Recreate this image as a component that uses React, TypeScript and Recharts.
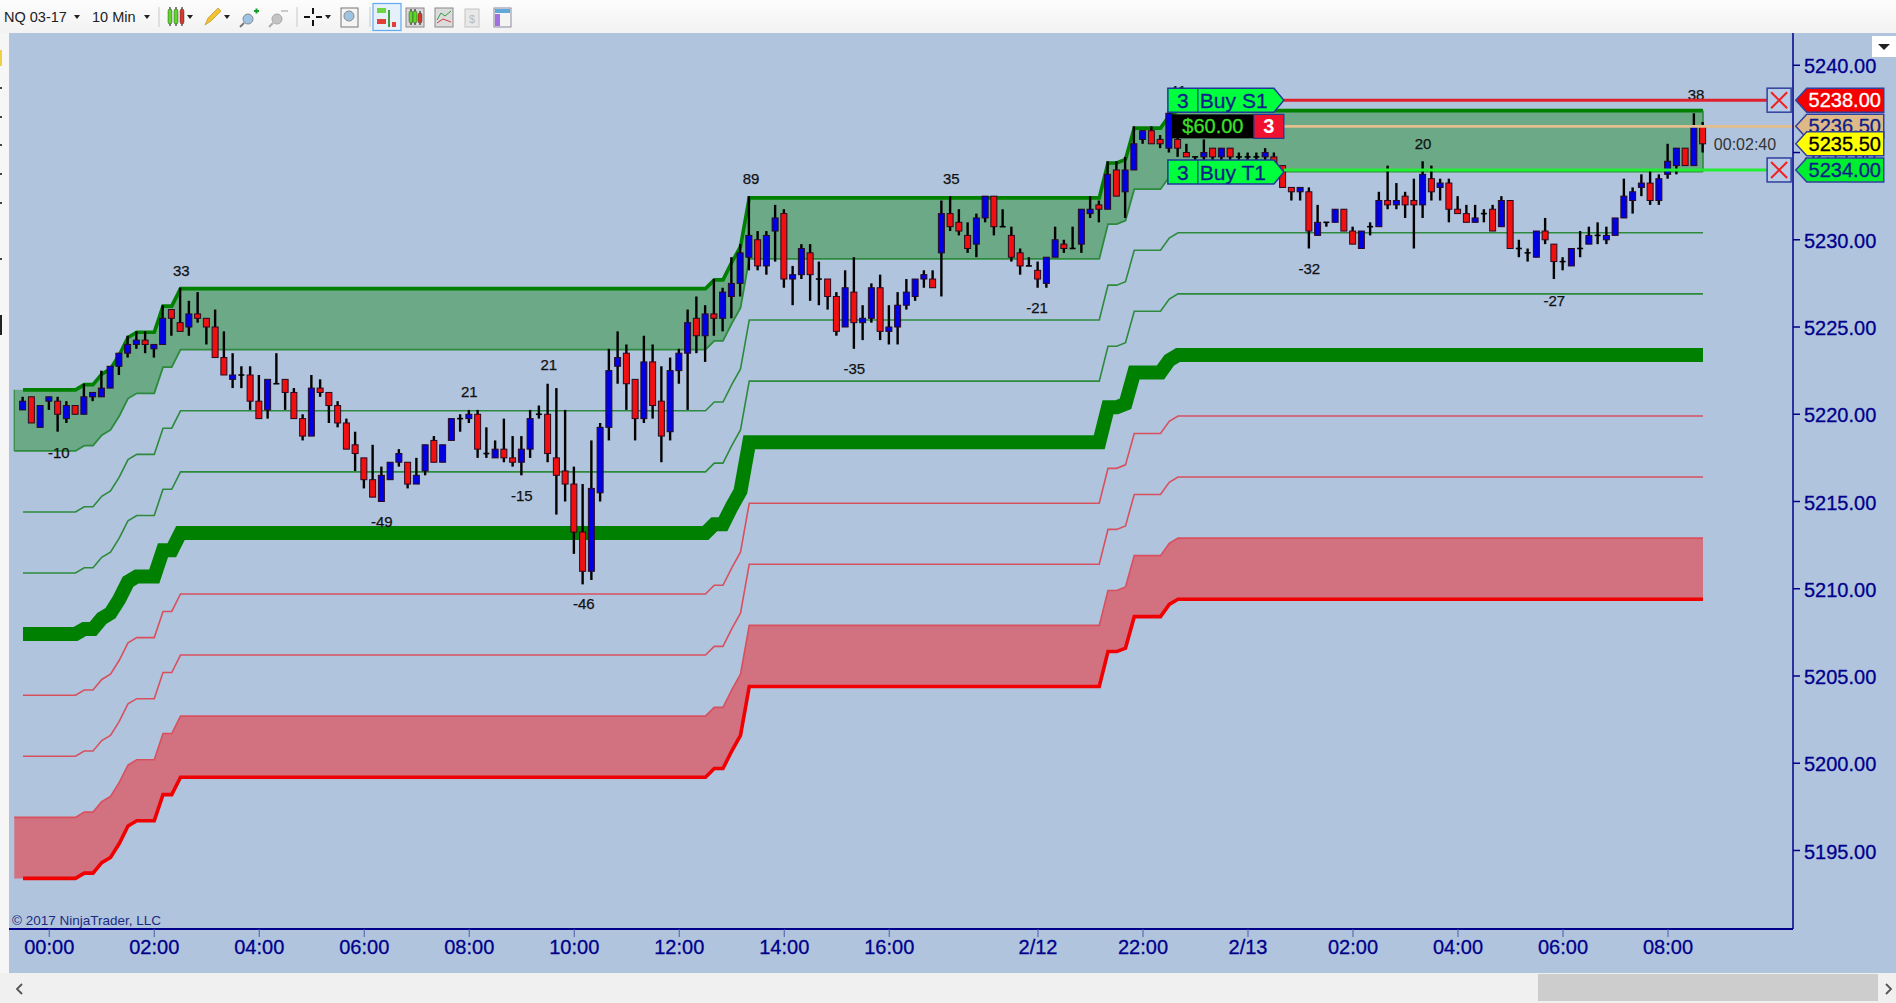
import {
  Area,
  Bar,
  ComposedChart,
  Line,
  ReferenceDot,
  ReferenceLine,
  XAxis,
  YAxis,
} from 'recharts';

const FONT = '"Liberation Sans", Arial, sans-serif';
const NAVY = '#00008b';

// candles, one per 10 min bar (oldest first)
const opens = [
  5220.25, 5221, 5219.25, 5220.75, 5220.75, 5219.75, 5220.5, 5220, 5221, 5221,
  5221.5, 5222.75, 5223.5, 5224, 5224.25, 5223.75, 5224, 5226, 5225.25, 5225,
  5225.75, 5225.5, 5225, 5223.25, 5222, 5222.25, 5222.25, 5220.75, 5220.25, 5221.75,
  5222, 5221.25, 5219.75, 5218.75, 5221.5, 5221.25, 5220.5, 5219.5, 5218.25, 5217.5,
  5216.25, 5215, 5216.25, 5217.25, 5217.25, 5216, 5216.75, 5218.5, 5217.25, 5218.5,
  5219.75, 5219.75, 5220, 5217.75, 5217.5, 5218, 5217.5, 5217.25, 5218, 5220,
  5220, 5217.5, 5216.75, 5216, 5213.25, 5211, 5215.5, 5219.25, 5222.75, 5223.5,
  5222, 5219.75, 5223, 5220.75, 5219, 5222.5, 5223.5, 5225.5, 5224.5, 5225.75,
  5225.5, 5226.75, 5227.5, 5229, 5230, 5228.5, 5230.5, 5231.5, 5227.75, 5228,
  5229.25, 5227.75, 5227.75, 5226.75, 5225, 5227, 5225.25, 5225.5, 5227.25, 5224.75,
  5225, 5226.25, 5226.75, 5227.75, 5227.75, 5229.25, 5231.5, 5231, 5230.25, 5229.75,
  5231.25, 5232.5, 5230.75, 5230.25, 5229.25, 5228.5, 5228.25, 5227.5, 5229, 5229.75,
  5229.5, 5229.75, 5231.5, 5232, 5231.75, 5234, 5232.75, 5234, 5235.75, 5236.25,
  5235.75, 5235.25, 5235.75, 5235, 5234.75, 5234.75, 5235.25, 5234.75, 5235.25, 5234.75,
  5234.75, 5234.75, 5234.75, 5234.75, 5234.25, 5233, 5232.75, 5232.75, 5230.25, 5231,
  5231, 5231.75, 5230.5, 5229.5, 5230.75, 5230.75, 5232.25, 5232, 5232.5, 5232.25,
  5232, 5233.5, 5233, 5233.25, 5231.75, 5231.5, 5231, 5231.5, 5231.75, 5230.75,
  5232.25, 5229.5, 5229.25, 5229, 5230.5, 5229.75, 5228.75, 5228.5, 5229.5, 5229.75,
  5230.25, 5230, 5230.25, 5231.25, 5232.25, 5233, 5233.25, 5232.25, 5233.75, 5234.25,
  5235.25, 5234.25, 5236.5,
];
const highs = [
  5221, 5221, 5220.5, 5221, 5221, 5220.75, 5220.5, 5221.75, 5221.25, 5222.5,
  5222.75, 5223.5, 5224.5, 5224.75, 5224.75, 5224, 5226.25, 5226, 5227.25, 5226.5,
  5227, 5225.5, 5226, 5224.75, 5223.5, 5222.75, 5222.75, 5222.25, 5222, 5223.5,
  5222, 5221.5, 5220, 5222.25, 5222, 5221.25, 5220.75, 5219.75, 5219, 5217.5,
  5218.25, 5217, 5217.25, 5218, 5217.25, 5217.5, 5218.25, 5218.75, 5218.25, 5219.75,
  5220, 5220.25, 5220.25, 5219.25, 5218.5, 5219.75, 5218.75, 5218.75, 5220.25, 5220.5,
  5221.75, 5221.5, 5220.25, 5217, 5216, 5218.5, 5219.5, 5223.75, 5224.75, 5224,
  5222, 5224.5, 5224, 5222.75, 5223.25, 5223.75, 5226, 5226.75, 5226.25, 5227.75,
  5227.25, 5229, 5229.75, 5232.5, 5230.5, 5230.5, 5232, 5231.75, 5228.5, 5229.75,
  5229.75, 5228.75, 5227.75, 5227, 5228.25, 5229, 5226.25, 5227.5, 5228, 5226.25,
  5227, 5227.75, 5227.75, 5228.25, 5228.25, 5232.25, 5232.5, 5231.75, 5231, 5231.5,
  5232.5, 5232.5, 5231.75, 5230.75, 5229.5, 5229, 5228.75, 5229, 5230.75, 5230,
  5230.75, 5231.75, 5232.5, 5232.25, 5234.5, 5234.5, 5234.75, 5236.5, 5236.25, 5236.5,
  5236, 5237.5, 5236, 5235.5, 5234.75, 5235.75, 5235.25, 5235.25, 5235.25, 5235,
  5235, 5235, 5235.25, 5235, 5234.25, 5233, 5233, 5233, 5232, 5231,
  5231.75, 5231.75, 5230.75, 5230.5, 5231, 5232.75, 5234.25, 5233.25, 5232.75, 5233.5,
  5234.5, 5234.25, 5233.5, 5233.5, 5232.5, 5232, 5232, 5231.75, 5232, 5232.5,
  5232.25, 5230, 5229.5, 5230.5, 5231.25, 5229.75, 5229, 5229.5, 5230.5, 5230.75,
  5231, 5230.75, 5231.25, 5233.5, 5233, 5233.75, 5234, 5233.75, 5235.5, 5235.25,
  5235.25, 5237.25, 5236.75,
];
const lows = [
  5220.25, 5219.5, 5219.25, 5220.25, 5219, 5219.5, 5220, 5220, 5220.75, 5221,
  5221.5, 5222.25, 5223.25, 5223.75, 5223.5, 5223.25, 5224, 5224.5, 5224.75, 5224.5,
  5225.25, 5224, 5223.25, 5222.25, 5221.5, 5221.5, 5220.25, 5219.75, 5219.75, 5221.75,
  5220.25, 5219.75, 5218.5, 5218.75, 5221, 5219.5, 5219.25, 5218, 5216.75, 5215.75,
  5215.25, 5215, 5216.25, 5217, 5215.75, 5216, 5216.5, 5217.25, 5217.25, 5218.5,
  5219, 5219.5, 5217.5, 5217.5, 5217.5, 5217.25, 5217, 5216.5, 5217.5, 5219.75,
  5217.25, 5214.25, 5215, 5212, 5210.25, 5210.5, 5215, 5218.5, 5221.75, 5220.25,
  5218.5, 5219.5, 5219.75, 5217.25, 5218.5, 5221.75, 5220.25, 5223.5, 5223, 5224.5,
  5224.75, 5225.5, 5226.75, 5228.25, 5228.25, 5228, 5228.75, 5227.25, 5226.25, 5227.75,
  5226.5, 5226.25, 5226, 5224.5, 5225, 5223.75, 5224.25, 5225.25, 5224.25, 5224,
  5224, 5226, 5226.5, 5227.25, 5227.25, 5226.75, 5230.5, 5230.25, 5229.25, 5229,
  5231, 5230.25, 5230.75, 5228.75, 5228, 5228.5, 5227.25, 5227.25, 5229, 5229.25,
  5229.5, 5229.25, 5231.25, 5231, 5231.75, 5232.5, 5231.25, 5234, 5235.5, 5235.5,
  5235.25, 5235, 5234.75, 5234.75, 5234.5, 5234.25, 5234.5, 5234.5, 5234.5, 5234.5,
  5234.5, 5234.5, 5234.5, 5234.25, 5233, 5232.25, 5232.25, 5229.5, 5230.25, 5230.75,
  5231, 5230.5, 5229.75, 5229.5, 5230.25, 5230.75, 5231.75, 5231.75, 5231.25, 5229.5,
  5231.25, 5232.25, 5232.25, 5231, 5231.5, 5231, 5231, 5231, 5230.5, 5230.75,
  5229.5, 5229, 5228.75, 5229, 5229.75, 5227.75, 5228.25, 5228.5, 5229, 5229.75,
  5229.75, 5229.75, 5230.25, 5231.25, 5231.5, 5232.5, 5232, 5232, 5233.5, 5233.75,
  5234.25, 5234.25, 5235,
];
const closes = [
  5220.75, 5219.5, 5220.5, 5221, 5220, 5220.5, 5220, 5221, 5221.25, 5221.5,
  5222.75, 5223.5, 5224, 5224.25, 5224, 5224, 5225.5, 5225.5, 5224.75, 5225.75,
  5225.5, 5225, 5223.25, 5222.25, 5222.25, 5222.25, 5220.75, 5219.75, 5222, 5221.75,
  5221.25, 5219.75, 5218.75, 5221.5, 5221.25, 5220.5, 5219.5, 5218, 5217.75, 5216.25,
  5215.25, 5216.5, 5217.25, 5217.75, 5216, 5216.5, 5218.25, 5217.25, 5218.25, 5219.75,
  5219.75, 5220, 5218, 5217.75, 5218, 5217.5, 5217.25, 5218, 5219.75, 5220,
  5217.75, 5216.5, 5216, 5213.25, 5211, 5215.75, 5219.25, 5222.5, 5223.25, 5221.75,
  5219.75, 5223, 5220.5, 5218.75, 5222.5, 5223.5, 5225.25, 5224.5, 5225.75, 5225.5,
  5227, 5227.5, 5229.25, 5230.25, 5228.5, 5230.25, 5231.25, 5227.75, 5228, 5229.5,
  5228, 5227.75, 5226.75, 5224.75, 5227.25, 5225.25, 5225.5, 5227.25, 5224.75, 5225,
  5226.25, 5227, 5227.75, 5228, 5227.25, 5231.5, 5230.75, 5230.5, 5229.5, 5231.25,
  5232.5, 5230.75, 5230.75, 5229, 5228.5, 5228.5, 5227.75, 5229, 5230, 5229.5,
  5229.5, 5231.75, 5231.75, 5231.75, 5233.75, 5232.5, 5234, 5235.5, 5236.25, 5235.5,
  5235.5, 5237.25, 5235.25, 5234.75, 5234.75, 5235, 5234.75, 5235.25, 5234.75, 5234.75,
  5234.75, 5234.75, 5235, 5234.25, 5233, 5232.75, 5233, 5230.5, 5231, 5231,
  5231.75, 5230.5, 5229.75, 5230.5, 5230.75, 5232.25, 5232, 5232.25, 5232, 5232,
  5233.75, 5232.75, 5233.25, 5231.75, 5231.5, 5231, 5231.25, 5231.5, 5230.5, 5232.25,
  5229.5, 5229.5, 5229.25, 5230.5, 5230, 5228.75, 5228.75, 5229.5, 5229.5, 5230.25,
  5230.25, 5230.25, 5231.25, 5232.5, 5232.75, 5233.25, 5232.25, 5233.5, 5234.5, 5235.25,
  5234.25, 5236.5, 5235.5,
];

// indicator levels, read at the bars where they change
const levelBars = [0, 6, 7, 8, 9, 10, 11, 12, 13, 15, 16, 17, 18, 78, 79, 80, 81, 82, 83, 123, 124, 125, 126, 127, 130, 131, 132, 192];
const upperTop = [5221.4, 5221.4, 5221.7, 5221.7, 5222.3, 5222.6, 5223.4, 5224.4, 5224.7, 5224.7, 5226.2, 5226.2, 5227.2, 5227.2, 5227.7, 5227.7, 5228.7, 5229.6, 5232.4, 5232.4, 5234.4, 5234.4, 5234.6, 5236.4, 5236.4, 5237.1, 5237.4, 5237.4];
const upperBottom = [5217.9, 5217.9, 5218.2, 5218.2, 5218.8, 5219.1, 5219.9, 5220.9, 5221.2, 5221.2, 5222.7, 5222.7, 5223.7, 5223.7, 5224.2, 5224.2, 5225.2, 5226.1, 5228.9, 5228.9, 5230.9, 5230.9, 5231.1, 5232.9, 5232.9, 5233.6, 5233.9, 5233.9];
const greenThin1 = [5214.4, 5214.4, 5214.7, 5214.7, 5215.3, 5215.6, 5216.4, 5217.4, 5217.7, 5217.7, 5219.2, 5219.2, 5220.2, 5220.2, 5220.7, 5220.7, 5221.7, 5222.6, 5225.4, 5225.4, 5227.4, 5227.4, 5227.6, 5229.4, 5229.4, 5230.1, 5230.4, 5230.4];
const greenThin2 = [5210.9, 5210.9, 5211.2, 5211.2, 5211.8, 5212.1, 5212.9, 5213.9, 5214.2, 5214.2, 5215.7, 5215.7, 5216.7, 5216.7, 5217.2, 5217.2, 5218.2, 5219.1, 5221.9, 5221.9, 5223.9, 5223.9, 5224.1, 5225.9, 5225.9, 5226.6, 5226.9, 5226.9];
const midLine = [5207.4, 5207.4, 5207.7, 5207.7, 5208.3, 5208.6, 5209.4, 5210.4, 5210.7, 5210.7, 5212.2, 5212.2, 5213.2, 5213.2, 5213.7, 5213.7, 5214.7, 5215.6, 5218.4, 5218.4, 5220.4, 5220.4, 5220.6, 5222.4, 5222.4, 5223.1, 5223.4, 5223.4];
const redThin1 = [5203.9, 5203.9, 5204.2, 5204.2, 5204.8, 5205.1, 5205.9, 5206.9, 5207.2, 5207.2, 5208.7, 5208.7, 5209.7, 5209.7, 5210.2, 5210.2, 5211.2, 5212.1, 5214.9, 5214.9, 5216.9, 5216.9, 5217.1, 5218.9, 5218.9, 5219.6, 5219.9, 5219.9];
const redThin2 = [5200.4, 5200.4, 5200.7, 5200.7, 5201.3, 5201.6, 5202.4, 5203.4, 5203.7, 5203.7, 5205.2, 5205.2, 5206.2, 5206.2, 5206.7, 5206.7, 5207.7, 5208.6, 5211.4, 5211.4, 5213.4, 5213.4, 5213.6, 5215.4, 5215.4, 5216.1, 5216.4, 5216.4];
const lowerTop = [5196.9, 5196.9, 5197.2, 5197.2, 5197.8, 5198.1, 5198.9, 5199.9, 5200.2, 5200.2, 5201.7, 5201.7, 5202.7, 5202.7, 5203.2, 5203.2, 5204.2, 5205.1, 5207.9, 5207.9, 5209.9, 5209.9, 5210.1, 5211.9, 5211.9, 5212.6, 5212.9, 5212.9];
const lowerBottom = [5193.4, 5193.4, 5193.7, 5193.7, 5194.3, 5194.6, 5195.4, 5196.4, 5196.7, 5196.7, 5198.2, 5198.2, 5199.2, 5199.2, 5199.7, 5199.7, 5200.7, 5201.6, 5204.4, 5204.4, 5206.4, 5206.4, 5206.6, 5208.4, 5208.4, 5209.1, 5209.4, 5209.4];

// swing labels
const swingTexts = ['33', '-10', '21', '21', '-49', '-15', '-46', '89', '35', '-35', '-21', '41', '-32', '20', '-27', '38'];
const swingBars = [18.1, 4.1, 51, 60.1, 41, 57, 64.1, 83.2, 106.1, 95, 115.9, 132, 147, 160, 175, 191.2];
const swingPrices = [5228.2, 5217.8, 5221.3, 5222.8, 5213.8, 5215.3, 5209.1, 5233.5, 5233.5, 5222.6, 5226.1, 5238.5, 5228.35, 5235.5, 5226.5, 5238.3];

const tickBars = [3, 15, 27, 39, 51, 63, 75, 87, 99, 116, 128, 140, 152, 164, 176, 188];
const tickLabels = ['00:00', '02:00', '04:00', '06:00', '08:00', '10:00', '12:00', '14:00', '16:00', '2/12', '22:00', '2/13', '02:00', '04:00', '06:00', '08:00'];
const priceTicks = [5195, 5200, 5205, 5210, 5215, 5220, 5225, 5230, 5235, 5240];

const candles = opens.map((open, i) => ({
  i,
  open,
  close: closes[i],
  range: [lows[i], highs[i]],
}));

const levels = levelBars.map((i, k) => ({
  i,
  upperTop: upperTop[k],
  upperBottom: upperBottom[k],
  greenThin1: greenThin1[k],
  greenThin2: greenThin2[k],
  midLine: midLine[k],
  redThin1: redThin1[k],
  redThin2: redThin2[k],
  lowerTop: lowerTop[k],
  lowerBottom: lowerBottom[k],
  upperBand: [upperBottom[k], upperTop[k]],
  lowerBand: [lowerBottom[k], lowerTop[k]],
}));
// the filled bands start one bar before the lines
const bandLevels = [{ ...levels[0], i: -1 }, ...levels];

function Candle(props: any) {
  const { x, y, width, height, payload } = props;
  const [low, high] = payload.range;
  const k = height / (high - low);
  const cx = x + width / 2;
  const top = y + (high - Math.max(payload.open, payload.close)) * k;
  const bottom = y + (high - Math.min(payload.open, payload.close)) * k;
  const fill = payload.close > payload.open ? '#0000e6' : '#f01010';
  return (
    <g>
      <line x1={cx} x2={cx} y1={y} y2={y + height} stroke="#000" strokeWidth={2.4} />
      {payload.close === payload.open ? (
        <line x1={cx - 3} x2={cx + 3} y1={top} y2={top} stroke="#000" strokeWidth={1.6} />
      ) : (
        <rect x={cx - 3} y={top} width={6} height={bottom - top} fill={fill} stroke="#2a0a20" strokeWidth={1} />
      )}
    </g>
  );
}

function priceTag(text: string, fill: string, color: string) {
  return (props: any) => {
    const { cx, cy } = props;
    const l = cx;
    const r = cx + 88;
    return (
      <g>
        <path
          d={`M${l} ${cy} L${l + 11} ${cy - 12} L${r} ${cy - 12} L${r} ${cy + 12} L${l + 11} ${cy + 12} Z`}
          fill={fill}
          stroke="#30409c"
          strokeWidth={1.5}
        />
        <text x={l + 49} y={cy + 7} textAnchor="middle" fontFamily={FONT} fontSize={20} fill={color} stroke={color} strokeWidth={0.3}>
          {text}
        </text>
      </g>
    );
  };
}

function closeBox(props: any) {
  const { cx, cy } = props;
  return (
    <g>
      <rect x={cx - 12} y={cy - 12} width={24} height={24} fill="#b8cbe6" stroke="#30409c" strokeWidth={1.5} />
      <path d={`M${cx - 8} ${cy - 8} L${cx + 8} ${cy + 8} M${cx + 8} ${cy - 8} L${cx - 8} ${cy + 8}`} stroke="#f02020" strokeWidth={2} />
    </g>
  );
}

function orderChip(label: string, dy: number) {
  return (props: any) => {
    const { cx } = props;
    const cy = props.cy + dy;
    const l = cx - 116;
    return (
      <g>
        <path
          d={`M${l} ${cy - 12} L${cx - 10} ${cy - 12} L${cx} ${cy} L${cx - 10} ${cy + 12} L${l} ${cy + 12} Z`}
          fill="#00ff3c"
          stroke="#1c3c98"
          strokeWidth={1.5}
        />
        <line x1={l + 30} x2={l + 30} y1={cy - 12} y2={cy + 12} stroke="#1c3c98" strokeWidth={1.2} />
        <text x={l + 15} y={cy + 8} textAnchor="middle" fontFamily={FONT} fontSize={21} fill="#0a1f8a" stroke="#0a1f8a" strokeWidth={0.3}>
          3
        </text>
        <text x={l + 32} y={cy + 8} fontFamily={FONT} fontSize={21} fill="#0a1f8a" stroke="#0a1f8a" strokeWidth={0.3}>
          {label}
        </text>
      </g>
    );
  };
}

function pnlChip(props: any) {
  const { cx, cy } = props;
  return (
    <g>
      <rect x={cx - 112} y={cy - 12} width={112} height={24} fill="#000" />
      <rect x={cx - 30} y={cy - 12} width={30} height={24} fill="#f01030" stroke="#1c3c98" strokeWidth={1.2} />
      <text x={cx - 71} y={cy + 7} textAnchor="middle" fontFamily={FONT} fontSize={20} fill="#3ce02a" stroke="#3ce02a" strokeWidth={0.3}>
        $60.00
      </text>
      <text x={cx - 15} y={cy + 7} textAnchor="middle" fontFamily={FONT} fontSize={20} fontWeight="bold" fill="#fff">
        3
      </text>
    </g>
  );
}

function Pill({ x, y, h, c }: { x: number; y: number; h: number; c: string }) {
  return (
    <g>
      <line x1={x} x2={x} y1={y - 2} y2={y + h + 2} stroke="#111" strokeWidth={1} />
      <rect x={x - 2} y={y} width={4} height={h} rx={2} fill={c} stroke="#222" strokeWidth={0.4} />
    </g>
  );
}

function Caret({ x }: { x: number }) {
  return <path d={`M${x - 3} 15 L${x + 3} 15 L${x} 19 Z`} fill="#222" />;
}

function Toolbar() {
  return (
    <div style={{ position: 'absolute', left: 0, top: 0, width: 1896, height: 33, background: 'linear-gradient(#fdfdfd, #f2f2f2)' }}>
      <svg width={1896} height={33} style={{ display: 'block' }}>
        <text x={4} y={22} fontFamily={FONT} fontSize={14.5} fill="#222">NQ 03-17</text>
        <Caret x={77} />
        <text x={92} y={22} fontFamily={FONT} fontSize={14.5} fill="#222">10 Min</text>
        <Caret x={147} />
        <line x1={159} x2={159} y1={7} y2={27} stroke="#c8c8c8" />
        <Pill x={170} y={9} h={15} c="#5fd62a" />
        <Pill x={176} y={9} h={15} c="#5fd62a" />
        <Pill x={182} y={9} h={15} c="#d8382c" />
        <Caret x={190} />
        <path d="M205 25 L208 18 L218 8 L221 11 L211 21 Z" fill="#f2c230" stroke="#b08a20" strokeWidth={0.6} />
        <Caret x={227} />
        <circle cx={248} cy={19} r={5} fill="#9cc4e4" stroke="#8a8a8a" />
        <line x1={244} x2={240} y1={23} y2={27} stroke="#777" strokeWidth={2} />
        <path d="M254 11 h5 M256.5 8.5 v5" stroke="#16a02a" strokeWidth={2} />
        <circle cx={277} cy={19} r={5} fill="#c4c4c4" stroke="#a8a8a8" />
        <line x1={273} x2={269} y1={23} y2={27} stroke="#aaa" strokeWidth={2} />
        <line x1={281} x2={288} y1={11} y2={11} stroke="#b8b8b8" strokeWidth={1.5} />
        <line x1={297} x2={297} y1={7} y2={27} stroke="#c8c8c8" />
        <path d="M304 17 h6 M316 17 h6 M313 8 v6 M313 20 v6" stroke="#111" strokeWidth={2} />
        <Caret x={328} />
        <rect x={341} y={8} width={17} height={19} fill="#f4f4f4" stroke="#777" />
        <circle cx={349} cy={16} r={5} fill="#9cc4e4" stroke="#8a8a8a" />
        <line x1={370} x2={370} y1={7} y2={27} stroke="#c8c8c8" />
        <rect x={373} y={3.5} width={28} height={27} fill="#e6f0fa" stroke="#62aaf0" strokeWidth={1.2} />
        <rect x={377} y={8} width={9} height={5} fill="#6fd640" />
        <rect x={377} y={19} width={9} height={5} fill="#e04038" />
        <line x1={389} x2={389} y1={10} y2={27} stroke="#3ca03c" strokeWidth={2} />
        <rect x={392} y={22} width={4} height={5} fill="#e04038" />
        <rect x={406} y={8} width={18} height={19} fill="#d8d8d8" stroke="#888" />
        <Pill x={411} y={11} h={12} c="#5fd62a" />
        <Pill x={415} y={11} h={12} c="#5fd62a" />
        <Pill x={420} y={13} h={10} c="#d8382c" />
        <rect x={435} y={8} width={18} height={19} fill="#dcdcdc" stroke="#888" />
        <path d="M437 20 L441 13 L445 16 L451 11" fill="none" stroke="#30a040" />
        <path d="M437 23 L443 19 L451 22" fill="none" stroke="#d04040" />
        <rect x={465} y={9} width={14} height={18} fill="#e8e8e8" stroke="#c4c4c4" />
        <text x={472} y={23} textAnchor="middle" fontFamily={FONT} fontSize={11} fill="#bbb">$</text>
        <rect x={494} y={8} width={17} height={19} fill="#f4f4f4" stroke="#8a8aa0" />
        <rect x={495} y={9} width={15} height={4} fill="#60a8d8" />
        <rect x={495} y={14} width={5} height={12} fill="#a070e0" />
      </svg>
    </div>
  );
}

export default function App() {
  return (
    <div style={{ position: 'absolute', left: 0, top: 0, width: 1896, height: 1003, overflow: 'hidden', background: '#b0c4de', fontFamily: FONT }}>
      <ComposedChart
        width={1896}
        height={973}
        data={candles}
        margin={{ top: 33, right: 0, bottom: 0, left: 9 }}
        style={{ position: 'absolute', left: 0, top: 0 }}
      >
        <XAxis
          dataKey="i"
          type="number"
          domain={[-1.6, 202.286]}
          allowDataOverflow
          ticks={tickBars}
          interval={0}
          tickFormatter={(v: number) => tickLabels[tickBars.indexOf(v)]}
          height={44}
          stroke={NAVY}
          strokeWidth={2}
          tickSize={8}
          tickMargin={3}
          tick={{ fill: NAVY, stroke: NAVY, strokeWidth: 0.3, fontSize: 20, fontFamily: FONT }}
          tickLine={{ stroke: '#4a5cb0', strokeWidth: 1 }}
        />
        <YAxis
          orientation="right"
          type="number"
          domain={[5190.5, 5241.85]}
          allowDataOverflow
          ticks={priceTicks}
          interval={0}
          width={103}
          stroke={NAVY}
          strokeWidth={1.5}
          tickSize={7}
          tickMargin={4}
          // 5235 sits behind the price tags, drawn below with them
          tickFormatter={(v: number) => (v === 5235 ? '' : v.toFixed(2))}
          tick={{ fill: NAVY, stroke: NAVY, strokeWidth: 0.3, fontSize: 20, fontFamily: FONT, dy: 1 }}
        />

        <Area data={bandLevels} dataKey="upperBand" type="linear" stroke="none" fill="#6ba987" fillOpacity={1} isAnimationActive={false} zIndex={100} />
        <Area data={bandLevels} dataKey="lowerBand" type="linear" stroke="none" fill="#d27180" fillOpacity={1} isAnimationActive={false} zIndex={100} />

        <Line data={bandLevels} dataKey="upperBottom" type="linear" stroke="#2d8a3c" strokeWidth={1.8} dot={false} isAnimationActive={false} zIndex={110} />
        <Line data={levels} dataKey="greenThin1" type="linear" stroke="#2d8a3c" strokeWidth={1.6} dot={false} isAnimationActive={false} zIndex={110} />
        <Line data={levels} dataKey="greenThin2" type="linear" stroke="#2d8a3c" strokeWidth={1.6} dot={false} isAnimationActive={false} zIndex={110} />
        <Line data={levels} dataKey="midLine" type="linear" stroke="#008000" strokeWidth={14} dot={false} isAnimationActive={false} zIndex={110} />
        <Line data={levels} dataKey="redThin1" type="linear" stroke="#d8505e" strokeWidth={1.6} dot={false} isAnimationActive={false} zIndex={110} />
        <Line data={levels} dataKey="redThin2" type="linear" stroke="#d8505e" strokeWidth={1.6} dot={false} isAnimationActive={false} zIndex={110} />
        <Line data={bandLevels} dataKey="lowerTop" type="linear" stroke="#d8505e" strokeWidth={1.6} dot={false} isAnimationActive={false} zIndex={110} />
        <Line data={levels} dataKey="upperTop" type="linear" stroke="#008000" strokeWidth={3.6} dot={false} isAnimationActive={false} zIndex={110} />
        <Line data={levels} dataKey="lowerBottom" type="linear" stroke="#f00000" strokeWidth={3.6} dot={false} isAnimationActive={false} zIndex={110} />

        {/* band edges */}
        <ReferenceLine segment={[{ x: -1, y: 5217.9 }, { x: -1, y: 5221.4 }]} ifOverflow="visible" stroke="#2d8a3c" strokeWidth={1.2} zIndex={120} />
        <ReferenceLine segment={[{ x: 192, y: 5233.9 }, { x: 192, y: 5237.4 }]} ifOverflow="visible" stroke="#2d8a3c" strokeWidth={1.6} zIndex={120} />

        <Bar dataKey="range" barSize={6} shape={Candle} isAnimationActive={false} zIndex={300} />

        {swingTexts.map((t, k) => (
          <ReferenceDot
            key={k}
            x={swingBars[k]}
            y={swingPrices[k]}
            r={1}
            ifOverflow="visible"
            zIndex={350}
            shape={(p: any) => (
              <text x={p.cx} y={p.cy + 5} textAnchor="middle" fontFamily={FONT} fontSize={15} fill="#111" stroke="#111" strokeWidth={0.25}>
                {t}
              </text>
            )}
          />
        ))}

        <ReferenceLine segment={[{ x: 144.1, y: 5238 }, { x: 199.3, y: 5238 }]} ifOverflow="visible" stroke="#e0202c" strokeWidth={3} zIndex={400} />
        <ReferenceLine segment={[{ x: 144.1, y: 5236.5 }, { x: 202.5, y: 5236.5 }]} ifOverflow="visible" stroke="#e3bf8e" strokeWidth={2.6} zIndex={400} />
        <ReferenceLine segment={[{ x: 144.1, y: 5234 }, { x: 199.3, y: 5234 }]} ifOverflow="visible" stroke="#22ee33" strokeWidth={3} zIndex={400} />

        <ReferenceDot x={144.1} y={5238} r={1} ifOverflow="visible" zIndex={410} shape={orderChip('Buy S1', 0)} />
        <ReferenceDot x={144.1} y={5236.5} r={1} ifOverflow="visible" zIndex={410} shape={pnlChip} />
        <ReferenceDot x={144.1} y={5234} r={1} ifOverflow="visible" zIndex={410} shape={orderChip('Buy T1', 2)} />
        <ReferenceDot x={200.7} y={5238} r={1} ifOverflow="visible" zIndex={410} shape={closeBox} />
        <ReferenceDot x={200.7} y={5234} r={1} ifOverflow="visible" zIndex={410} shape={closeBox} />

        <ReferenceDot
          x={196.8}
          y={5235.5}
          r={1}
          ifOverflow="visible"
          zIndex={410}
          shape={(p: any) => (
            <text x={p.cx} y={p.cy + 6} textAnchor="middle" fontFamily={FONT} fontSize={16} fill="#333">
              00:02:40
            </text>
          )}
        />
        <ReferenceDot
          x={203.54}
          y={5235}
          r={1}
          ifOverflow="visible"
          zIndex={590}
          shape={(p: any) => (
            <text x={p.cx} y={p.cy + 8} fontFamily={FONT} fontSize={20} fill={NAVY}>
              5235.00
            </text>
          )}
        />
        <ReferenceDot x={202.6} y={5236.5} r={1} ifOverflow="visible" zIndex={600} shape={priceTag('5236.50', '#deb887', '#0a1f8a')} />
        <ReferenceDot x={202.6} y={5238} r={1} ifOverflow="visible" zIndex={610} shape={priceTag('5238.00', '#f40000', '#fff')} />
        <ReferenceDot x={202.6} y={5235.5} r={1} ifOverflow="visible" zIndex={610} shape={priceTag('5235.50', '#ffff00', '#000')} />
        <ReferenceDot x={202.6} y={5234} r={1} ifOverflow="visible" zIndex={610} shape={priceTag('5234.00', '#00ee30', '#0a1f8a')} />
      </ComposedChart>

      <div style={{ position: 'absolute', left: 12, top: 913, fontSize: 13.5, color: '#1c2a80' }}>© 2017 NinjaTrader, LLC</div>

      <Toolbar />
      {/* left strip */}
      <div style={{ position: 'absolute', left: 0, top: 33, width: 9, height: 940, background: '#f6f6f6' }} />
      <div style={{ position: 'absolute', left: 0, top: 50, width: 2, height: 16, background: '#f0d040' }} />
      <div style={{ position: 'absolute', left: 0, top: 315, width: 2, height: 20, background: '#222' }} />
      {[87, 116, 144, 173, 202, 258].map((y) => (
        <div key={y} style={{ position: 'absolute', left: 0, top: y, width: 2, height: 2, background: '#444' }} />
      ))}
      {/* dropdown in the corner */}
      <div style={{ position: 'absolute', left: 1872, top: 36, width: 24, height: 21, background: '#fff' }}>
        <svg width={24} height={21} style={{ display: 'block' }}>
          <path d="M6 8 L18 8 L12 14 Z" fill="#222" />
        </svg>
      </div>
      {/* scrollbar */}
      <div style={{ position: 'absolute', left: 0, top: 973, width: 1896, height: 30, background: '#f0f0f0' }}>
        <svg width={1896} height={30} style={{ display: 'block' }}>
          <path d="M22 11 L17 16 L22 21" fill="none" stroke="#555" strokeWidth={1.8} />
          <path d="M1886 11 L1891 16 L1886 21" fill="none" stroke="#555" strokeWidth={1.8} />
          <rect x={1538} y={1} width={340} height={27} fill="#cdcdcd" />
        </svg>
      </div>
    </div>
  );
}
